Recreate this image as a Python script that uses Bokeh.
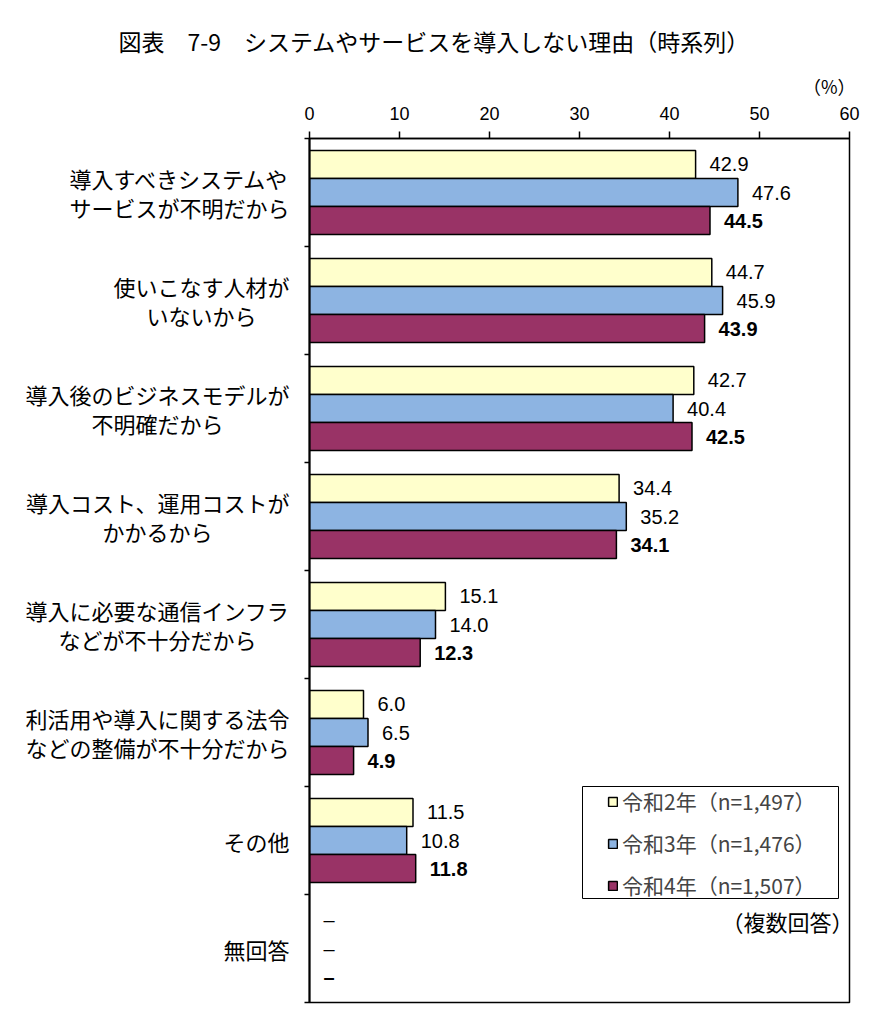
from bokeh.plotting import figure
from bokeh.models import (ColumnDataSource, Range1d, FixedTicker, Label, Title,
                          Legend, LegendItem, BoxAnnotation)
from bokeh.transform import dodge
from bokeh.core.properties import value
from bokeh.embed import file_html
from bokeh.resources import INLINE

# ---------------- data ----------------
categories = [
    ["導入すべきシステムや", "サービスが不明だから"],
    ["使いこなす人材が", "いないから"],
    ["導入後のビジネスモデルが", "不明確だから"],
    ["導入コスト、運用コストが", "かかるから"],
    ["導入に必要な通信インフラ", "などが不十分だから"],
    ["利活用や導入に関する法令", "などの整備が不十分だから"],
    ["その他"],
    ["無回答"],
]
series_names = ["令和2年（n=1,497）", "令和3年（n=1,476）", "令和4年（n=1,507）"]
r2 = [42.9, 44.7, 42.7, 34.4, 15.1, 6.0, 11.5, None]
r3 = [47.6, 45.9, 40.4, 35.2, 14.0, 6.5, 10.8, None]
r4 = [44.5, 43.9, 42.5, 34.1, 12.3, 4.9, 11.8, None]
x_ticks = [0, 10, 20, 30, 40, 50, 60]

title_text = "図表\u30007-9\u3000システムやサービスを導入しない理由（時系列）"
unit_text = "（%）"
note_text = "（複数回答）"

colors = ["#FFFFCC", "#8DB4E2", "#993366"]
JP = "Noto Sans CJK JP"
NUM = "Liberation Sans"

n = len(categories)
ypos = [i + 0.5 for i in range(n)]
bounds = list(range(n + 1))


def centred_block(lines):
    """Right-aligned axis label whose lines are visually centred (pad with em spaces)."""
    w = max(len(s) for s in lines)
    out = []
    for s in lines:
        d = (w - len(s)) / 2.0
        pad = "\u3000" * int(d) + ("\u2002" if d - int(d) > 0 else "")
        out.append(s + pad)
    return "\n".join(out)


FRAME_W, FRAME_H = 540, 864
ML, MR, MT, MB = 309, 27, 138, 14

p = figure(width=ML + FRAME_W + MR, height=MT + FRAME_H + MB,
           x_range=Range1d(0, 60), y_range=Range1d(n, 0),
           x_axis_location="above", output_backend="svg", toolbar_location=None,
           min_border_left=ML, min_border_right=MR, min_border_top=MT,
           min_border_bottom=MB)
p.outline_line_color = "black"
p.outline_line_width = 1.5
p.xgrid.visible = False
p.ygrid.visible = False
p.background_fill_color = "white"
p.border_fill_color = "white"

# titles above the axis (first added = closest to plot)
p.add_layout(Title(text=unit_text, align="right", text_font=JP, text_font_size="18px",
                   text_font_style="normal", text_color="black", offset=-6), "above")
p.add_layout(Title(text=title_text, align="left", text_font=JP, text_font_size="23px",
                   text_font_style="normal", text_color="black", standoff=16,
                   offset=118 - ML), "above")

# top axis
xa = p.xaxis[0]
xa.ticker = FixedTicker(ticks=x_ticks)
xa.major_tick_out = 7
xa.major_tick_in = 0
xa.minor_tick_out = 0
xa.minor_tick_in = 0
xa.axis_line_width = 1.5
xa.major_tick_line_width = 1.5
xa.major_label_text_font = NUM
xa.major_label_text_font_size = "18px"
xa.major_label_text_color = "black"
xa.major_label_standoff = 12

# left axis: category labels at centres, tick marks at boundaries (minor)
ya = p.yaxis[0]
ya.ticker = FixedTicker(ticks=ypos, minor_ticks=bounds)
ya.major_label_overrides = {y: centred_block(c) for y, c in zip(ypos, categories)}
ya.major_label_text_font = JP
ya.major_label_text_font_size = "22px"
ya.major_label_text_line_height = 0.88
ya.major_label_text_color = "black"
ya.major_label_standoff = 15
ya.major_tick_out = 0
ya.major_tick_in = 0
ya.minor_tick_out = 5
ya.minor_tick_in = 0
ya.minor_tick_line_width = 1.5
ya.minor_tick_line_color = "black"
ya.axis_line_width = 2


def fmt(v):
    return "–" if v is None else f"{v:.1f}"


def num(v):
    return float("nan") if v is None else v


src = ColumnDataSource(dict(
    y=ypos,
    r2=[num(v) for v in r2], r3=[num(v) for v in r3], r4=[num(v) for v in r4],
    r2x=[0 if v is None else v for v in r2],
    r3x=[0 if v is None else v for v in r3],
    r4x=[0 if v is None else v for v in r4],
    r2t=[fmt(v) for v in r2], r3t=[fmt(v) for v in r3], r4t=[fmt(v) for v in r4],
))

bh = 0.26
offs = [-bh, 0.0, bh]
cols = ["r2", "r3", "r4"]
renderers = []
for k in range(3):
    r = p.hbar(y=dodge("y", offs[k], range=p.y_range), left=0, right=cols[k], height=bh,
               source=src, fill_color=colors[k], line_color="black", line_width=1.5)
    renderers.append(r)
    p.text(x=cols[k] + "x", y=dodge("y", offs[k], range=p.y_range), text=cols[k] + "t",
           source=src, x_offset=14, text_baseline="middle", text_align="left",
           text_font=value(NUM), text_font_size="20px",
           text_font_style="bold" if k == 2 else "normal", text_color="black")

# note below the legend
p.add_layout(Label(x=FRAME_W + 4, y=FRAME_H - 782, x_units="screen", y_units="screen",
                   text=note_text, text_align="right", text_baseline="middle",
                   text_font=JP, text_font_size="22px", text_color="black"))

# legend box + legend
p.add_layout(BoxAnnotation(left=273, right=529, bottom=104, top=216,
                           left_units="screen", right_units="screen",
                           bottom_units="screen", top_units="screen",
                           fill_color="white", fill_alpha=1,
                           line_color="black", line_width=1, line_alpha=1))
legend = Legend(items=[LegendItem(label=series_names[k], renderers=[renderers[k]])
                       for k in range(3)],
                location=(298, 102), orientation="vertical")
legend.glyph_width = 11
legend.glyph_height = 11
legend.label_height = 25
legend.spacing = 12
legend.padding = 7
legend.margin = 0
legend.label_standoff = 4
legend.label_text_font = JP
legend.label_text_font_size = "21px"
legend.border_line_color = None
legend.background_fill_alpha = 0
p.add_layout(legend)

open("out.html", "w").write(file_html(p, INLINE))
